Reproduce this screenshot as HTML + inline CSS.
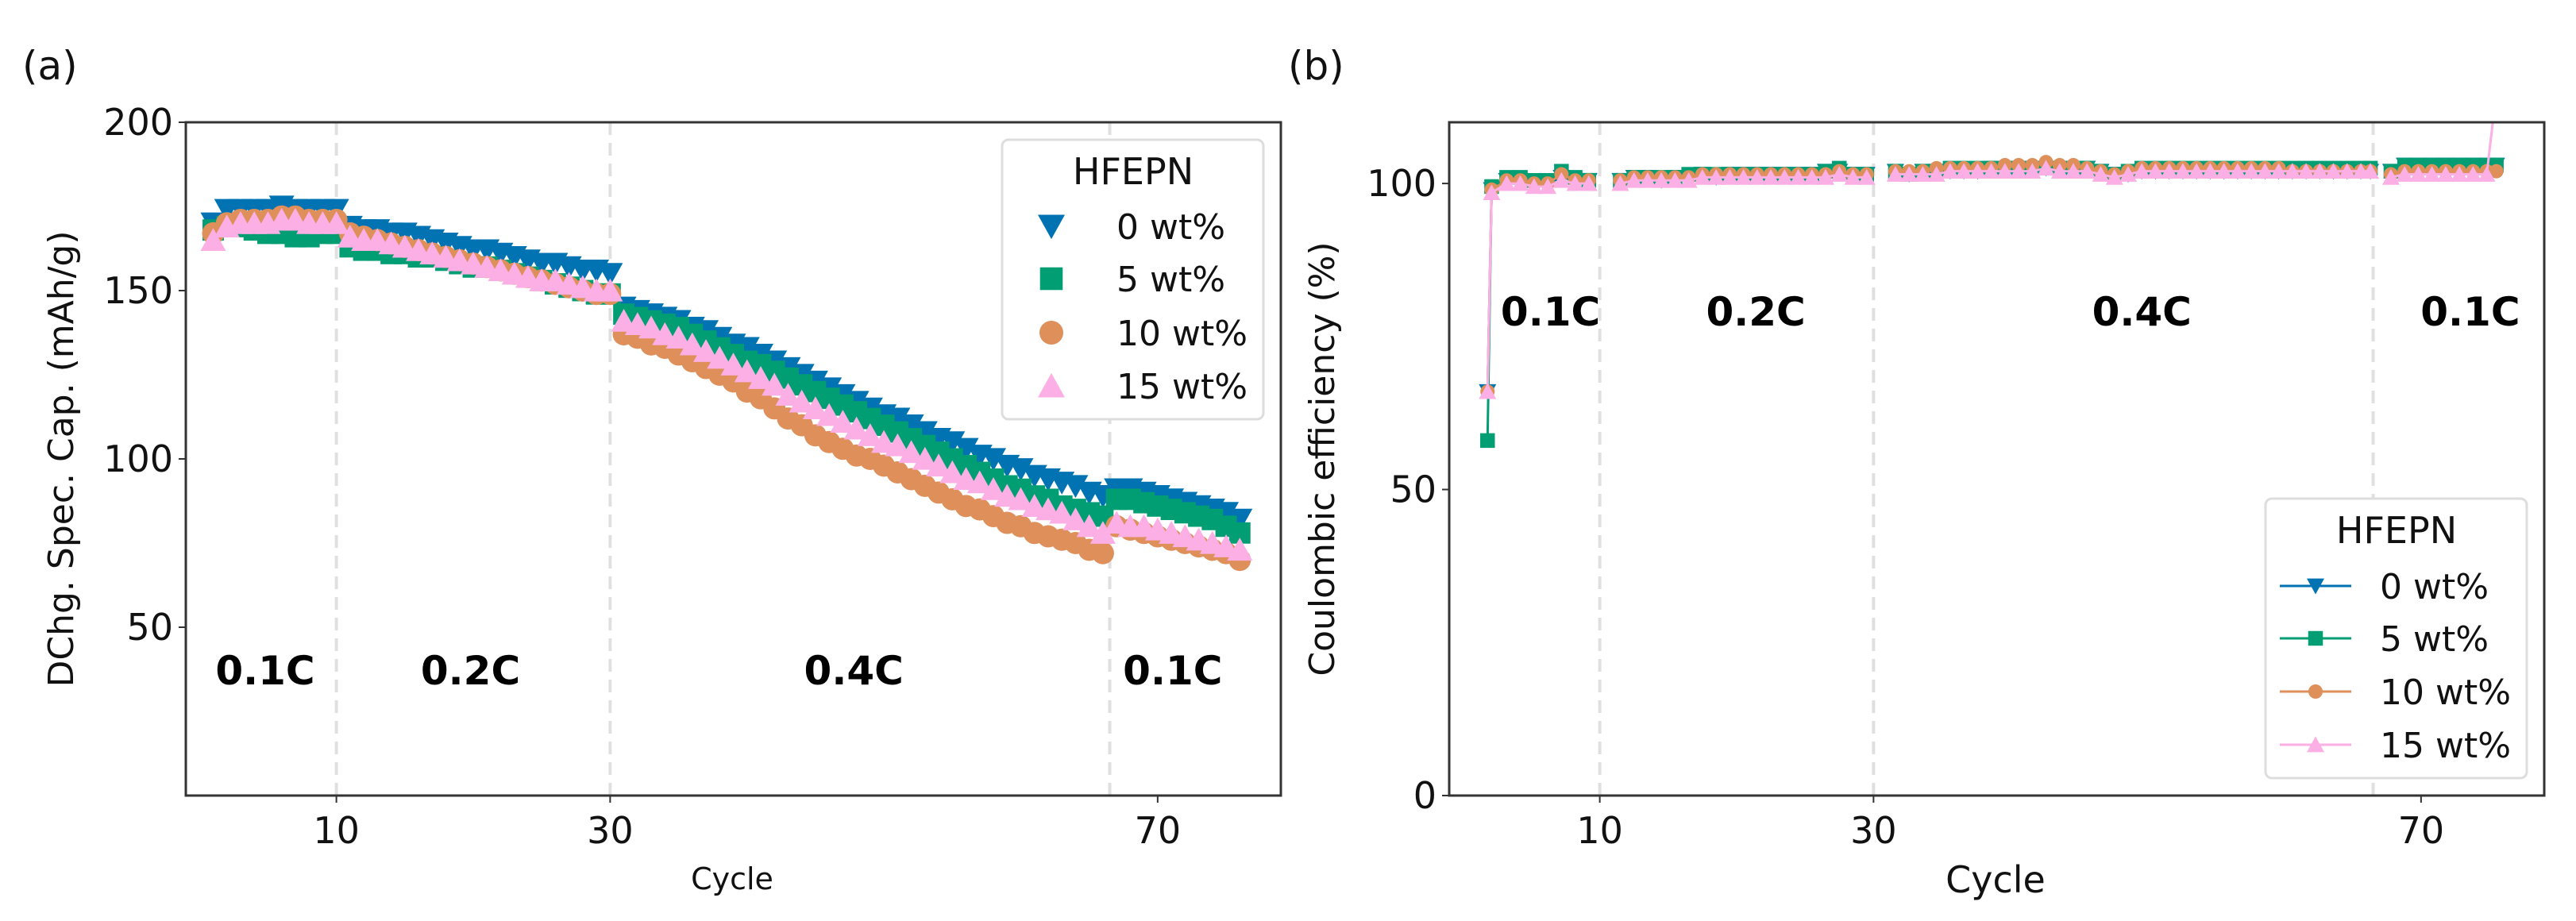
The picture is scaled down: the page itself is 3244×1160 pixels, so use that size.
<!DOCTYPE html>
<html><head><meta charset="utf-8"><style>
body{margin:0;background:#fff}
svg{display:block;font-family:"DejaVu Sans","Liberation Sans",sans-serif}
</style></head><body>
<svg id="fig" width="3244" height="1160" viewBox="0 0 3244 1160" xmlns="http://www.w3.org/2000/svg"></svg>
<script>
// ---------- data ----------
const capCycles1=[1,2,3,4,5,6,7,8,9,10];
const capCycles2=[11,12,13,14,15,16,17,18,19,20,21,22,23,24,25,26,27,28,29,30];
const capCycles3=[31,32,33,34,35,36,37,38,39,40,41,42,43,44,45,46,47,48,49,50,51,52,53,54,55,56,57,58,59,60,61,62,63,64,65,66];
const capCycles4=[67,68,69,70,71,72,73,74,75,76];
const cap0=[170,174,174,174,174,175,174,174,174,174, 169,168,168,167,167,166,165,164,163,162,162,161,160,159,158,158,157,156,156,155, 145,144,143,142,141,139,138,136,134,133,131,129,127,125,123,121,119,117,115,113,112,110,108,106,105,103,101,100,98,97,95,94,93,92,90,89, 91,91,90,89,88,87,86,85,84,82];
const cap5=[168,169,169,168,167,167,166,166,167,167, 163,162,162,161,161,160,160,159,158,157,157,156,155,154,153,152,151,150,149,149, 143,142,141,140,139,137,135,133,131,129,128,126,124,122,120,118,116,114,112,110,108,106,104,102,100,98,96,94,92,91,89,88,86,85,84,83, 88,88,87,86,85,84,83,82,80,78];
const cap10=[167,170,171,171,171,172,172,171,171,171, 167,166,165,164,163,162,161,160,159,158,157,156,155,154,153,152,151,150,149,149, 137,136,134,133,131,129,127,125,123,120,118,115,112,110,107,105,103,101,100,98,96,94,92,90,88,86,85,83,81,80,78,77,76,75,73,72, 80,79,78,77,76,75,74,73,72,70];
const cap15=[165,169,170,170,170,171,171,170,170,170, 166,165,165,164,163,162,161,160,159,158,157,156,155,154,153,153,152,151,150,150, 141,140,139,137,136,134,132,130,128,126,124,122,119,117,115,113,111,109,107,105,104,102,100,98,96,94,93,91,89,88,86,85,84,82,80,78, 81,80,80,79,78,77,76,75,74,73];

const ceCycles1=[1.8,2.1,3.2,4.2,5.2,6.2,7.2,8.2,9.2];
const ceCycles2=[11.5,12.5,13.5,14.5,15.5,16.5,17.5,18.5,19.5,20.5,21.5,22.5,23.5,24.5,25.5,26.5,27.5,28.5,29.5];
const ceCycles3=[31.6,32.6,33.6,34.6,35.6,36.6,37.6,38.6,39.6,40.6,41.6,42.6,43.6,44.6,45.6,46.6,47.6,48.6,49.6,50.6,51.6,52.6,53.6,54.6,55.6,56.6,57.6,58.6,59.6,60.6,61.6,62.6,63.6,64.6,65.6,66.3];
const ceCycles4=[67.8,68.8,69.8,70.8,71.8,72.8,73.8,74.8,75.5];
const ce0=[66,99,100.5,100.5,100,100,101,100.5,100.5, 100.5,101,101,100.5,101,101,101.5,101,101.5,101.5,101.5,101.5,101.5,101.5,101.5,102,102,101.5,101.5, 102,101.5,102,102,102,102,102,102.5,102.5,102.5,102.5,102.5,102.5,102.5,102.5,102,101.5,101.5,102,102,102,102,102,102,102,102,102,102,102,102,102,102,102,102,102,102, 102,103,103,103,103,103,103,103,103];
const ce5=[58,99.5,101,101,100.5,100.5,102,101,100.5, 100.5,101,101,101,101,101.5,101.5,101.5,101.5,101.5,101.5,101.5,101.5,101.5,101.5,102,102.5,101.5,101.5, 102,101.5,102,102,102.5,102.5,102.5,102.5,102.5,102.5,102.5,102.5,102.5,102.5,102.5,102,101.5,102,102.5,102.5,102.5,102.5,102.5,102.5,102.5,102.5,102.5,102.5,102.5,102.5,102.5,102.5,102.5,102.5,102.5,102.5, 102,103,103,103,103,103,103,103,103];
const ce10=[66,99,100.5,100.5,100,100,101.5,100.5,100.5, 100.5,101,101,101,101,101,101.5,101.5,101.5,101.5,101.5,101.5,101.5,101.5,101.5,101.5,102,101.5,101.5, 102,102,102,102.5,102.5,102.5,102.5,102.5,103,103,103,103.5,103,103,102.5,102,101.5,102,102.5,102.5,102.5,102.5,102.5,102.5,102.5,102.5,102.5,102.5,102.5,102,102,102,102,102,102,102, 101.5,102,102,102,102,102,102,102,102];
const ce15=[66,98.5,100,100,99.5,99.5,100.5,100,100, 100,100.5,100.5,100.5,100.5,100.5,101,101,101,101,101,101,101,101,101,101,101.5,101,101, 101.5,101.5,101.5,101.5,102,102,102,102,102,102,102,102.5,102,102,102,101.5,101,101.5,102,102,102,102,102,102,102,102,102,102,102,102,102,102,102,102,102,102, 101,101.5,101.5,101.5,101.5,101.5,101.5,101.5,115];

const seriesNames=["0 wt%","5 wt%","10 wt%","15 wt%"];
const yTicksA=[50,100,150,200];
const yTicksB=[0,50,100];
const xTicks=[10,30,70];
const rateLabels=["0.1C","0.2C","0.4C","0.1C"];
const rateCycleA=[4.8,19.8,47.8,71.1];
const rateCycleB=[6.4,21.4,49.6,73.6];
const phaseBounds=[10,30,66.5];

// ---------- helpers ----------
const NS="http://www.w3.org/2000/svg";
const svg=document.getElementById('fig');
function mk(tag,attrs,parent){const e=document.createElementNS(NS,tag);for(const k in attrs)e.setAttribute(k,attrs[k]);(parent||svg).appendChild(e);return e;}
function txt(s,attrs,parent){const e=mk('text',attrs,parent);e.textContent=s;return e;}
const colors=["#0173B2","#029E73","#DE8F5A","#FBAFE4"];
const shapes=["tri-down","square","circle","tri-up"];
function marker(g,shape,x,y,s,c){
  let e;
  if(shape==="circle"){e=mk('circle',{cx:x,cy:y,r:s/2,fill:c},g);}
  else if(shape==="square"){const h=s*0.42;e=mk('rect',{x:x-h,y:y-h,width:2*h,height:2*h,fill:c},g);}
  else if(shape==="tri-down"){const h=s/2;e=mk('polygon',{points:`${x-h},${y-h*0.85} ${x+h},${y-h*0.85} ${x},${y+h*0.95}`,fill:c},g);}
  else {const h=s/2;e=mk('polygon',{points:`${x-h},${y+h*0.85} ${x+h},${y+h*0.85} ${x},${y-h*0.95}`,fill:c},g);}
  return e;
}
function xScale(L,R){return c=>L+(c-(-1))*(R-L)/(79-(-1));}

function axesFrame(name,L,T,R,B,yS,yTicks,xS){
  const g=mk('g',{});
  
  
  // dashed phase lines
  phaseBounds.forEach(p=>{const l=mk('line',{x1:xS(p),x2:xS(p),y1:T,y2:B,stroke:"#e0e0e0","stroke-width":4,"stroke-dasharray":"16,10"},g);
    
    });
  yTicks.forEach(v=>{const y=yS(v);mk('line',{x1:L-9,x2:L,y1:y,y2:y,stroke:"#333","stroke-width":2},g);
    const t=txt(String(v),{x:L-16,y:y+16,"text-anchor":"end","font-size":46,fill:"#111"},g);
    
    });
  xTicks.forEach(v=>{const x=xS(v);mk('line',{x1:x,x2:x,y1:B,y2:B+9,stroke:"#333","stroke-width":2},g);
    const t=txt(String(v),{x:x,y:B+60,"text-anchor":"middle","font-size":46,fill:"#111"},g);
    
    });
  return g;
}

// ---------- panel a ----------
(function(){
  const L=234,T=154,R=1613,B=1002;
  const xS=xScale(L,R);
  const yS=v=>B-(v-0)*(B-T)/200;
  const pl=txt("(a)",{x:28,y:100,"font-size":50,fill:"#111"});
  
  
  axesFrame('panel-a',L,T,R,B,yS,yTicksA,xS);
  const cyc=[].concat(capCycles1,capCycles2,capCycles3,capCycles4);
  const data=[cap0,cap5,cap10,cap15];
  const clip=mk('clipPath',{id:'clipA'});mk('rect',{x:L,y:T,width:R-L,height:B-T},clip);
  data.forEach((arr,si)=>{
    const g=mk('g',{'clip-path':'url(#clipA)'});
    
    
    arr.forEach((v,i)=>{const m=marker(g,shapes[si],xS(cyc[i]),yS(v),si===2?28:32,colors[si]);
      
      });
  });
  mk('rect',{x:L,y:T,width:R-L,height:B-T,fill:"none",stroke:"#333","stroke-width":3});
  rateLabels.forEach((s,i)=>{const t=txt(s,{x:xS(rateCycleA[i]),y:862,"text-anchor":"middle","font-size":50,"font-weight":"bold",fill:"#000"});
    
    });
  const yl=txt("DChg. Spec. Cap. (mAh/g)",{x:0,y:0,"text-anchor":"middle","font-size":44,fill:"#111",transform:"translate(92,578) rotate(-90)"});
  
  
  const xl=txt("Cycle",{x:922,y:1120,"text-anchor":"middle","font-size":38,fill:"#111"});
  
  
  // legend
  const lg=mk('g',{});
  
  
  mk('rect',{x:1262,y:176,width:329,height:352,rx:8,fill:"#fff",stroke:"#ddd","stroke-width":3},lg);
  txt("HFEPN",{x:1427,y:232,"text-anchor":"middle","font-size":46,fill:"#111"},lg);
  const ly=[285,351,419,486];
  seriesNames.forEach((n,i)=>{const e=mk('g',{},lg);
    
    
    marker(e,shapes[i],1324,ly[i],i===2?30:34,colors[i]);
    txt(n,{x:1406,y:ly[i]+16,"font-size":44,fill:"#111"},e);});
})();

// ---------- panel b ----------
(function(){
  const L=1825,T=154,R=3204,B=1002;
  const xS=xScale(L,R);
  const yS=v=>B-(v-0)*(B-T)/110;
  const pl=txt("(b)",{x:1622,y:100,"font-size":50,fill:"#111"});
  
  
  axesFrame('panel-b',L,T,R,B,yS,yTicksB,xS);
  const segs=[ceCycles1,ceCycles2,ceCycles3,ceCycles4];
  const data=[ce0,ce5,ce10,ce15];
  const clip=mk('clipPath',{id:'clipB'});mk('rect',{x:L,y:T,width:R-L,height:B-T},clip);
  data.forEach((arr,si)=>{
    const g=mk('g',{'clip-path':'url(#clipB)'});
    
    
    let off=0;
    segs.forEach(sc=>{
      const pts=sc.map((c,i)=>xS(c)+','+yS(arr[off+i])).join(' ');
      const pl=mk('polyline',{points:pts,fill:"none",stroke:colors[si],"stroke-width":3},g);
      
      
      sc.forEach((c,i)=>{const m=marker(g,shapes[si],xS(c),yS(arr[off+i]),si===2?18:22,colors[si]);
        
        });
      off+=sc.length;
    });
  });
  mk('rect',{x:L,y:T,width:R-L,height:B-T,fill:"none",stroke:"#333","stroke-width":3});
  rateLabels.forEach((s,i)=>{const t=txt(s,{x:xS(rateCycleB[i]),y:410,"text-anchor":"middle","font-size":50,"font-weight":"bold",fill:"#000"});
    
    });
  const yl=txt("Coulombic efficiency (%)",{x:0,y:0,"text-anchor":"middle","font-size":44,fill:"#111",transform:"translate(1680,578) rotate(-90)"});
  
  
  const xl=txt("Cycle",{x:2513,y:1124,"text-anchor":"middle","font-size":46,fill:"#111"});
  
  
  const lg=mk('g',{});
  
  
  mk('rect',{x:2853,y:628,width:329,height:352,rx:8,fill:"#fff",stroke:"#ddd","stroke-width":3},lg);
  txt("HFEPN",{x:3018,y:684,"text-anchor":"middle","font-size":46,fill:"#111"},lg);
  const ly=[738,804,871,938];
  seriesNames.forEach((n,i)=>{const e=mk('g',{},lg);
    
    
    mk('line',{x1:2871,x2:2961,y1:ly[i],y2:ly[i],stroke:colors[i],"stroke-width":3},e);
    marker(e,shapes[i],2916,ly[i],i===2?18:22,colors[i]);
    txt(n,{x:2997,y:ly[i]+16,"font-size":44,fill:"#111"},e);});
})();
</script>
</body></html>
